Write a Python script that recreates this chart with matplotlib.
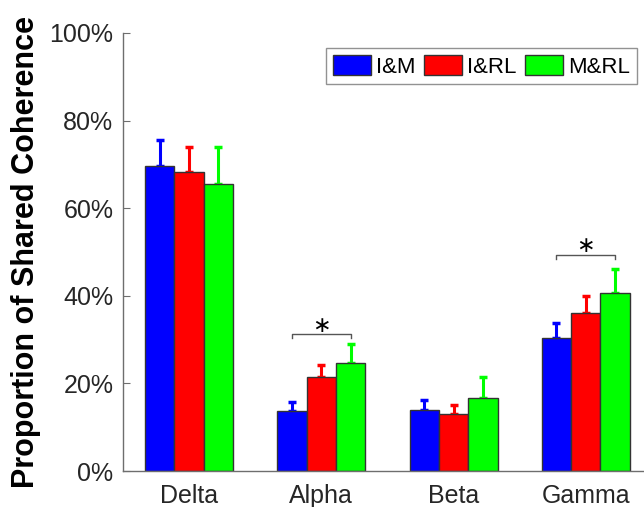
import numpy as np
import matplotlib.pyplot as plt
from matplotlib.ticker import PercentFormatter

plt.rcParams['font.family'] = ['Liberation Sans', 'DejaVu Sans']

bands = ['Delta', 'Alpha', 'Beta', 'Gamma']
pairs = ['I&M', 'I&RL', 'M&RL']
colors = ['#0000ff', '#ff0000', '#00ff00']

# mean proportion (%) per band, one list per pair
im_mean = [69.7, 13.7, 13.9, 30.4]
irl_mean = [68.3, 21.4, 12.9, 36.1]
mrl_mean = [65.6, 24.7, 16.7, 40.6]
# upper error bars (%)
im_err = [5.9, 2.1, 2.2, 3.3]
irl_err = [5.7, 2.9, 2.2, 3.9]
mrl_err = [8.4, 4.2, 4.7, 5.5]

# significance brackets: band index, height (%)
sig_band = [1, 3]
sig_height = [31.2, 49.4]

means = [im_mean, irl_mean, mrl_mean]
errs = [im_err, irl_err, mrl_err]

fig = plt.figure(figsize=(6.44, 5.07), dpi=100)
ax = fig.add_axes([0.191, 0.071, 0.809, 0.864])

x = np.arange(1, len(bands) + 1)
w = 0.222
offsets = [-w, 0, w]
axis_col = '#6e6e6e'

for m, e, c, off, lab in zip(means, errs, colors, offsets, pairs):
    ax.bar(x + off, m, w, color=c, edgecolor='#333333', linewidth=1, label=lab, zorder=2)
    ax.errorbar(x + off, m, yerr=[np.zeros(len(e)), e], fmt='none', ecolor=c,
                elinewidth=2.2, capsize=3, capthick=2.5, zorder=1)

for b, h in zip(sig_band, sig_height):
    x0 = x[b] - w
    x1 = x[b] + w
    ax.plot([x0, x0, x1, x1], [h - 0.9, h, h, h - 0.9], color='#555555', lw=1)
    ax.text(x[b], h + 1.9, '\u2217', ha='center', va='center', fontsize=16,
            color='black', family='DejaVu Sans')

ax.set_xlim(0.5, 4.44)
ax.set_ylim(0, 100)
ax.set_xticks(x)
ax.set_xticklabels(bands)
ax.set_yticks(np.arange(0, 101, 20))
ax.yaxis.set_major_formatter(PercentFormatter(decimals=0))
ax.tick_params(axis='y', direction='in', length=5, color=axis_col, labelsize=18, labelcolor='#262626', pad=7)
ax.tick_params(axis='x', length=0, labelsize=18, labelcolor='#262626', pad=9)

for s in ['top', 'right']:
    ax.spines[s].set_visible(False)
for s in ['left', 'bottom']:
    ax.spines[s].set_color(axis_col)
    ax.spines[s].set_linewidth(1)

ax.set_ylabel('Proportion of Shared Coherence', fontsize=22, fontweight='bold', labelpad=6)

leg = ax.legend(ncol=3, loc='upper right', bbox_to_anchor=(0.986, 0.965), fontsize=16,
                frameon=True, fancybox=False, edgecolor='#777777', handlelength=1.7,
                handleheight=1.0, handletextpad=0.23, columnspacing=0.4, borderpad=0.3,
                borderaxespad=0)
leg.get_frame().set_linewidth(1)

fig.savefig('out.png', dpi=100)
